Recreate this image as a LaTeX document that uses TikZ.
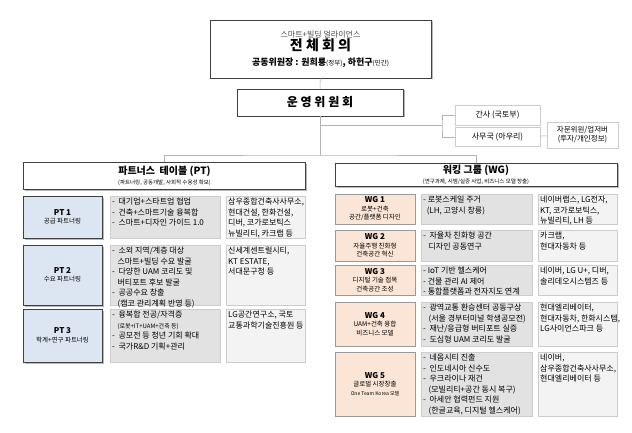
\documentclass[tikz,border=0pt]{standalone}
\usepackage{fontspec}
\setmainfont{Noto Sans CJK KR}
\usetikzlibrary{positioning,shadows,calc}

\definecolor{ptblue}{HTML}{DCE6F2}
\definecolor{wgpeach}{HTML}{FBE5D6}
\definecolor{midgray}{HTML}{E2E2E2}
\definecolor{rightgray}{HTML}{F3F3F3}

% box from corner to corner, text at the top left
\newcommand{\cell}[7]{%
  \node[#6,minimum width={#4-#2},minimum height={#5-#3},anchor=north west] (#1) at (#2,#3) {};
  \node[celltext,anchor=north west] (#1t) at (#1.north west) {#7};
}

\begin{document}
\begin{tikzpicture}[x=1pt,y=-1pt]
  \tikzset{
    shadowbox/.style={draw=black!75,line width=0.6pt,fill=white,inner sep=0pt,
      drop shadow={shadow xshift=1.5pt,shadow yshift=-1.5pt,fill=black!35,opacity=0.8}},
    softbox/.style={draw=black!20,fill=white,inner sep=0pt,
      drop shadow={shadow xshift=1pt,shadow yshift=-1pt,fill=black!20}},
    ptlabel/.style={shadowbox,fill=ptblue,align=center,font=\fontsize{6.5}{8.5}\selectfont},
    wglabel/.style={draw=black!40,fill=wgpeach,align=center,inner sep=0pt,font=\fontsize{6.5}{8.5}\selectfont,
      drop shadow={shadow xshift=1pt,shadow yshift=-1pt,fill=black!25}},
    midbox/.style={draw=black!20,fill=midgray,inner sep=0pt,
      drop shadow={shadow xshift=1pt,shadow yshift=-1pt,fill=black!25}},
    rightbox/.style={draw=black!20,fill=rightgray,inner sep=0pt,
      drop shadow={shadow xshift=1pt,shadow yshift=-1pt,fill=black!20}},
    celltext/.style={align=left,inner sep=2pt,font=\fontsize{8}{10.5}\selectfont},
    link/.style={draw=black!30,line width=0.6pt},
  }
  \useasboundingbox (0,0) rectangle (632,433);

  % plenary and steering
  \node[shadowbox,minimum width=221,minimum height=58,align=center] (plenary) at (320.5,49)
    {{\fontsize{8}{10}\selectfont\color{black!70}스마트+빌딩 얼라이언스}\\[0pt]
     {\fontsize{14}{17}\selectfont\bfseries 전 체 회 의}\\[3pt]
     {\fontsize{9}{11}\selectfont\bfseries 공동위원장 : 원희룡{\fontsize{6.5}{8}\selectfont\mdseries(정부)}, 하헌구{\fontsize{6.5}{8}\selectfont\mdseries(민간)}}};
  \node[shadowbox,minimum width=166,minimum height=27,font=\fontsize{12}{14}\selectfont\bfseries] (steer) at (320,102.5) {운 영 위 원 회};

  \node[softbox,minimum width=85,minimum height=20,font=\fontsize{8}{10}\selectfont] (secretary) at (497.5,115) {간사 (국토부)};
  \node[softbox,minimum width=85,minimum height=19,font=\fontsize{8}{10}\selectfont] (office) at (497.5,137) {사무국 (아우리)};
  \node[softbox,minimum width=71,minimum height=26,align=center,font=\fontsize{7.5}{9}\selectfont] (advisor) at (582.5,135)
    {자문위원/업저버\\(투자/개인정보)};

  % headers
  \node[shadowbox,minimum width=282,minimum height=27,align=center] (pthead) at (164.5,176)
    {{\fontsize{10}{12}\selectfont\bfseries 파트너스\ \ 테이블 (PT)}\\[-2pt]{\fontsize{5.5}{7}\selectfont (파트너링, 공동개발, 사회적 수용성 확보)}};
  \node[shadowbox,minimum width=282,minimum height=23,align=center] (wghead) at (476,174.5)
    {{\fontsize{10}{12}\selectfont\bfseries 워킹 그룹 (WG)}\\[-2pt]{\fontsize{5.5}{7}\selectfont (연구과제, 시범/실증 사업, 비즈니스 모델 창출)}};

  % connectors
  \coordinate (split) at (320,155);
  \coordinate (fork) at (442,125);
  \draw[link] (plenary) -- (steer);
  \draw[link] (steer) -- (split);
  \draw[link] (pthead.north) |- (split) -| (wghead.north);
  \draw[link] (320,125) -- (fork);
  \draw[link] (secretary.west) -| (fork) |- (office.west);
  \draw[link] (office) -- (advisor);

  % PT rows
  \node[ptlabel,minimum width=79,minimum height=42] (pt1) at (62.5,217) {{\fontsize{8}{10}\selectfont\bfseries PT 1}\\공급 파트너링};
  \cell{pt1m}{110}{196}{220}{238}{midbox}{- \ 대기업+스타트업 협업\\- \ 건축+스마트기술 융복합\\- \ 스마트+디자인 가이드 1.0}
  \cell{pt1r}{226}{196}{305}{238}{rightbox}{삼우종합건축사사무소,\\현대건설, 한화건설,\\디버, 코가로보틱스\\뉴빌리티, 카크랩 등}

  \node[ptlabel,minimum width=79,minimum height=60] (pt2) at (62.5,275) {{\fontsize{8}{10}\selectfont\bfseries PT 2}\\수요 파트너링};
  \cell{pt2m}{110}{245}{220}{305}{midbox}{- \ 소외 지역/계층 대상\\\ \ \ 스마트+빌딩 수요 발굴\\- \ 다양한 UAM 코리도 및\\\ \ \ 버티포트 후보 발굴\\- \ 공공수요 창출\\\ \ \ (캠코 관리계획 반영 등)}
  \cell{pt2r}{226}{245}{305}{305}{rightbox}{신세계센트럴시티,\\KT ESTATE,\\서대문구청 등}

  \node[ptlabel,minimum width=79,minimum height=53] (pt3) at (62.5,335.5) {{\fontsize{8}{10}\selectfont\bfseries PT 3}\\학계+연구 파트너링};
  \cell{pt3m}{110}{309}{220}{362}{midbox}{- \ 융복합 전공/자격증\\\ \ \ {\fontsize{6}{8}\selectfont(로봇+IT+UAM+건축 등)}\\- \ 공모전 등 청년 기회 확대\\- \ 국가R\&D 기획+관리}
  \cell{pt3r}{226}{309}{305}{362}{rightbox}{LG공간연구소, 국토\\교통과학기술진흥원 등}

  % WG rows
  \node[wglabel,minimum width=80,minimum height=30] (wg1) at (375,209) {{\fontsize{8}{10}\selectfont\bfseries WG 1}\\로봇+건축\\공간/플랫폼 디자인};
  \cell{wg1m}{421}{194}{532}{224}{midbox}{- 로봇스케일 주거\\\ \ (LH, 고양시 창릉)}
  \cell{wg1r}{538}{194}{617}{224}{rightbox}{네이버랩스, LG전자,\\KT, 코가로보틱스,\\뉴빌리티, LH 등}

  \node[wglabel,minimum width=80,minimum height=31] (wg2) at (375,245.5) {{\fontsize{8}{10}\selectfont\bfseries WG 2}\\자율주행 친화형\\건축공간 혁신};
  \cell{wg2m}{421}{230}{532}{261}{midbox}{- \ 자율차 친화형 공간\\\ \ \ 디자인 공동연구}
  \cell{wg2r}{538}{230}{617}{261}{rightbox}{카크랩,\\현대자동차 등}

  \node[wglabel,minimum width=80,minimum height=30] (wg3) at (375,280) {{\fontsize{8}{10}\selectfont\bfseries WG 3}\\디지털 기술 접목\\건축공간 조성};
  \cell{wg3m}{421}{265}{532}{295}{midbox}{- IoT 기반 헬스케어\\- 건물 관리 AI 제어\\- 통합플랫폼과 전자지도 연계}
  \cell{wg3r}{538}{265}{617}{295}{rightbox}{네이버, LG U+, 디버,\\솔리데오시스템즈 등}

  \node[wglabel,minimum width=80,minimum height=44] (wg4) at (375,324) {{\fontsize{8}{10}\selectfont\bfseries WG 4}\\UAM+건축 융합\\비즈니스 모델};
  \cell{wg4m}{421}{302}{532}{346}{midbox}{- \ 광역교통 환승센터 공동구상\\\ \ \ (서울 경부터미널 학생공모전)\\- \ 재난/응급형 버티포트 실증\\- \ 도심형 UAM 코리도 발굴}
  \cell{wg4r}{538}{302}{617}{346}{rightbox}{현대엘리베이터,\\현대자동차, 한화시스템,\\LG사이언스파크 등}

  \node[wglabel,minimum width=80,minimum height=64] (wg5) at (375,384) {{\fontsize{8}{10}\selectfont\bfseries WG 5}\\글로벌 시장창출\\{\fontsize{5}{7}\selectfont One Team Korea 모델}};
  \cell{wg5m}{421}{352}{532}{416}{midbox}{- \ 네옴시티 진출\\- \ 인도네시아 신수도\\- \ 우크라이나 재건\\\ \ \ (모빌리티+공간 동시 복구)\\- \ 아세안 협력펀드 지원\\\ \ \ (한글교육, 디지털 헬스케어)}
  \cell{wg5r}{538}{352}{617}{416}{rightbox}{네이버,\\삼우종합건축사사무소,\\현대엘리베이터 등}
\end{tikzpicture}
\end{document}
